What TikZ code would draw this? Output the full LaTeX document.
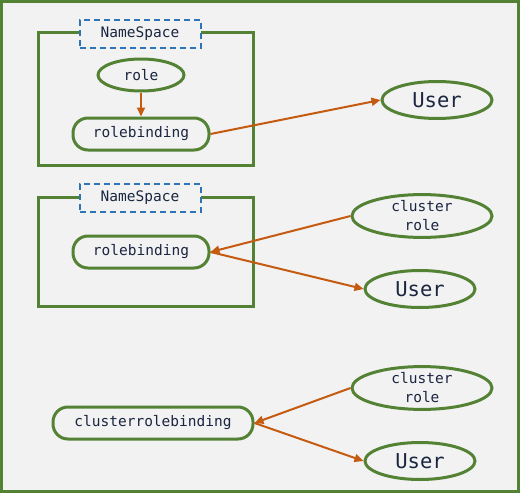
\documentclass[tikz,border=0pt]{standalone}
\usepackage{fontspec}
\setmonofont{DejaVu Sans Mono}
\usetikzlibrary{arrows.meta,shapes.geometric}
\definecolor{gfr}{HTML}{548235}
\definecolor{bgc}{HTML}{F2F2F2}
\definecolor{arr}{HTML}{C55A11}
\definecolor{nsb}{HTML}{2E75B6}
\definecolor{txt}{HTML}{1A2540}
\tikzset{
  frame/.style={draw=gfr, line width=3pt},
  nslabel/.style={draw=nsb, dashed, dash pattern=on 6pt off 4pt, line width=2pt, fill=bgc, minimum width=121pt, minimum height=28pt, inner sep=0pt, text=txt, font=\ttfamily\fontsize{14.5}{16}\selectfont},
  ell/.style={draw=gfr, ellipse, line width=3pt, inner sep=0pt, text=txt, font=\ttfamily\fontsize{14.5}{16}\selectfont},
  userell/.style={draw=gfr, ellipse, line width=3pt, inner sep=0pt, minimum width=110pt, minimum height=37pt, text=txt, font=\ttfamily\fontsize{20.5}{22}\selectfont},
  crell/.style={draw=gfr, ellipse, line width=3pt, inner sep=0pt, minimum width=140pt, minimum height=37pt, text=txt, align=center, font=\ttfamily\fontsize{14.5}{19}\selectfont},
  rbox/.style={draw=gfr, rounded corners=15pt, line width=3pt, minimum height=32pt, inner sep=0pt, text=txt, font=\ttfamily\fontsize{14.5}{16}\selectfont},
  conn/.style={draw=arr, line width=2pt, -{Triangle[length=9pt,width=8pt]}}
}
\begin{document}
\begin{tikzpicture}[x=1pt,y=-1pt]
\useasboundingbox (0,0) rectangle (520,493);
\draw[frame, fill=bgc] (1.5,1.5) rectangle (518.5,491.5);
% namespace 1
\draw[frame] (38,32) rectangle (253,165);
\node[nslabel] (ns1) at (140,34) {NameSpace};
\node[ell, minimum width=86pt, minimum height=32pt] (role) at (141,75) {role};
\node[rbox, minimum width=136pt] (rb1) at (141,134) {rolebinding};
\node[userell] (u1) at (437,100) {User};
\draw[conn] (role) -- (rb1);
\draw[conn] (rb1.east) -- (u1.west);
% namespace 2
\draw[frame] (38,197) rectangle (253,306);
\node[nslabel] (ns2) at (140,198) {NameSpace};
\node[rbox, minimum width=136pt] (rb2) at (141,252) {rolebinding};
\node[crell] (cr2) at (422,216) {cluster\\role};
\node[userell] (u2) at (420,289) {User};
\draw[conn] (cr2.west) -- (rb2.east);
\draw[conn] (rb2.east) -- (u2.west);
% cluster
\node[rbox, minimum width=200pt] (crb) at (153,423) {clusterrolebinding};
\node[crell] (cr3) at (422,388) {cluster\\role};
\node[userell] (u3) at (420,461) {User};
\draw[conn] (cr3.west) -- (crb.east);
\draw[conn] (crb.east) -- (u3.west);
\end{tikzpicture}
\end{document}
